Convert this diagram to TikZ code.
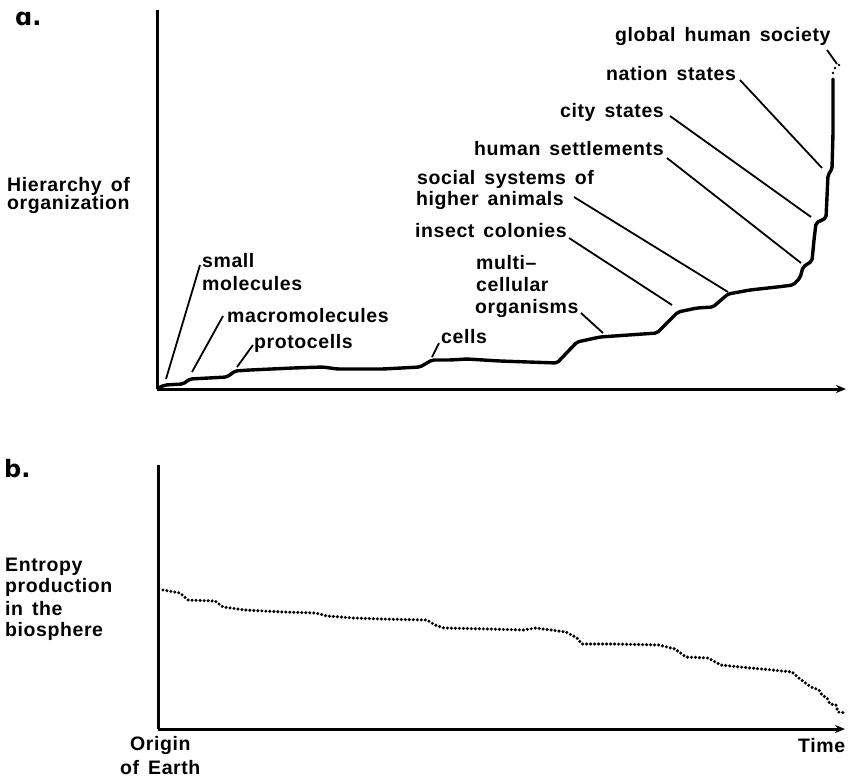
\documentclass[tikz,border=0pt]{standalone}
\usepackage{fontspec}
\setmainfont{Liberation Sans}
\newfontfamily\labfont{Liberation Sans Bold}[LetterSpace=3,WordSpace=1.5]
\newfontfamily\letfont{DejaVu Sans Bold}
\usetikzlibrary{arrows.meta}
\tikzset{
  lbl/.style={inner sep=0pt, anchor=base west, font=\labfont\fontsize{19.5}{23}\selectfont},
  panel/.style={inner sep=0pt, anchor=base west, font=\letfont\fontsize{24}{28}\selectfont},
  axis/.style={line width=3pt},
  axisarrow/.style={line width=3pt, -{Stealth[length=10pt,width=8pt]}},
  curve/.style={line width=3.4pt, line join=round, line cap=round, rounded corners=2pt},
  leader/.style={line width=1.8pt},
  dotcurve/.style={line width=3.4pt, line cap=round, dash pattern=on 0pt off 4pt},
}
\begin{document}
\begin{tikzpicture}[x=1pt,y=-1pt]
\useasboundingbox (0,0) rectangle (849,777);

% ---------------- panel a ----------------
\node[panel] (pa) at (15,25) {ɑ.};
\coordinate (aorig) at (157,389);
\coordinate (atop) at (157,10);
\coordinate (aend) at (846,389);
\draw[axis] (atop) -- (aorig);
\draw[axisarrow] (aorig) -- (aend);

\node[lbl] (hier1) at (7,191) {Hierarchy of};
\node[lbl] (hier2) at (7,209) {organization};

\draw[curve] (158,388) -- (165,385) -- (183,384) -- (190,379) -- (227,377) -- (235,371) -- (250,370)
  -- (293,368) -- (323,367) -- (337,369) -- (383,369) -- (420,367) -- (432,360) -- (450,360)
  -- (467,359) -- (500,361) -- (557,363) -- (577,342) -- (600,337) -- (657,333) -- (678,312)
  -- (697,308) -- (713,307) -- (728,294) -- (750,290) -- (777,287) -- (793,285) -- (800,278)
  -- (803,267) -- (812,261) -- (814,240) -- (816,223) -- (826,218) -- (828,175) -- (832,169)
  -- (833,133) -- (833,79);
\fill (833,73) circle (1.4pt);
\fill (835,68) circle (1.4pt);
\fill (839,65) circle (1.4pt);

% labels
\node[lbl] (small) at (202,267) {small};
\node[lbl] (molec) at (202,290) {molecules};
\node[lbl] (macro) at (227,322) {macromolecules};
\node[lbl] (proto) at (254,348) {protocells};
\node[lbl] (cells) at (441,343) {cells};
\node[lbl] (multi) at (476,269) {multi–};
\node[lbl] (cellu) at (476,291) {cellular};
\node[lbl] (organ) at (475,313) {organisms};
\node[lbl] (insect) at (415,237) {insect colonies};
\node[lbl] (soc1) at (417,184) {social systems of};
\node[lbl] (soc2) at (416,205) {higher animals};
\node[lbl] (human) at (474,155) {human settlements};
\node[lbl] (city) at (560,117) {city states};
\node[lbl] (nation) at (606,80) {nation states};
\node[lbl] (global) at (615,41) {global human society};

% leader ends
\coordinate (smallA) at (200,265); \coordinate (smallB) at (166,379);
\coordinate (macroA) at (223,316); \coordinate (macroB) at (192,372);
\coordinate (protoA) at (253,345); \coordinate (protoB) at (237,367);
\coordinate (cellsA) at (439,343); \coordinate (cellsB) at (432,357);
\coordinate (organA) at (581,313); \coordinate (organB) at (603,333);
\coordinate (insectA) at (569,238); \coordinate (insectB) at (672,305);
\coordinate (socA) at (574,197); \coordinate (socB) at (728,292);
\coordinate (humanA) at (667,158); \coordinate (humanB) at (801,263);
\coordinate (cityA) at (670,116); \coordinate (cityB) at (811,217);
\coordinate (nationA) at (740,80); \coordinate (nationB) at (822,168);
\coordinate (globalA) at (827,50); \coordinate (globalB) at (837,64);

\draw[leader] (smallA) -- (smallB);
\draw[leader] (macroA) -- (macroB);
\draw[leader] (protoA) -- (protoB);
\draw[leader] (cellsA) -- (cellsB);
\draw[leader] (organA) -- (organB);
\draw[leader] (insectA) -- (insectB);
\draw[leader] (socA) -- (socB);
\draw[leader] (humanA) -- (humanB);
\draw[leader] (cityA) -- (cityB);
\draw[leader] (nationA) -- (nationB);
\draw[leader] (globalA) -- (globalB);

% ---------------- panel b ----------------
\node[panel] (pb) at (4,477) {b.};
\coordinate (borig) at (158,729);
\coordinate (btop) at (158,465);
\coordinate (bend) at (845,729);
\draw[axis] (btop) -- (borig);
\draw[axisarrow] (borig) -- (bend);

\node[lbl] (ent1) at (5,571) {Entropy};
\node[lbl] (ent2) at (5,592) {production};
\node[lbl] (ent3) at (5,615) {in the};
\node[lbl] (ent4) at (5,636) {biosphere};

\draw[dotcurve] (163,590) -- (180,593) -- (188,600) -- (215,601) -- (223,607) -- (245,610)
  -- (283,612) -- (316,613) -- (327,616) -- (354,618) -- (381,619) -- (427,620) -- (435,625)
  -- (444,628) -- (490,629) -- (523,630) -- (536,628) -- (566,632) -- (577,638) -- (582,644)
  -- (615,644) -- (659,645) -- (675,649) -- (686,657) -- (708,658) -- (721,665) -- (740,667)
  -- (762,669) -- (792,672) -- (800,679) -- (811,687) -- (819,690) -- (822,695) -- (827,698)
  -- (830,704) -- (836,705) -- (838,712) -- (846,713);

\node[lbl] (origin1) at (130,750) {Origin};
\node[lbl] (origin2) at (120,774) {of Earth};
\node[lbl] (time) at (798,752) {Time};
\end{tikzpicture}
\end{document}
